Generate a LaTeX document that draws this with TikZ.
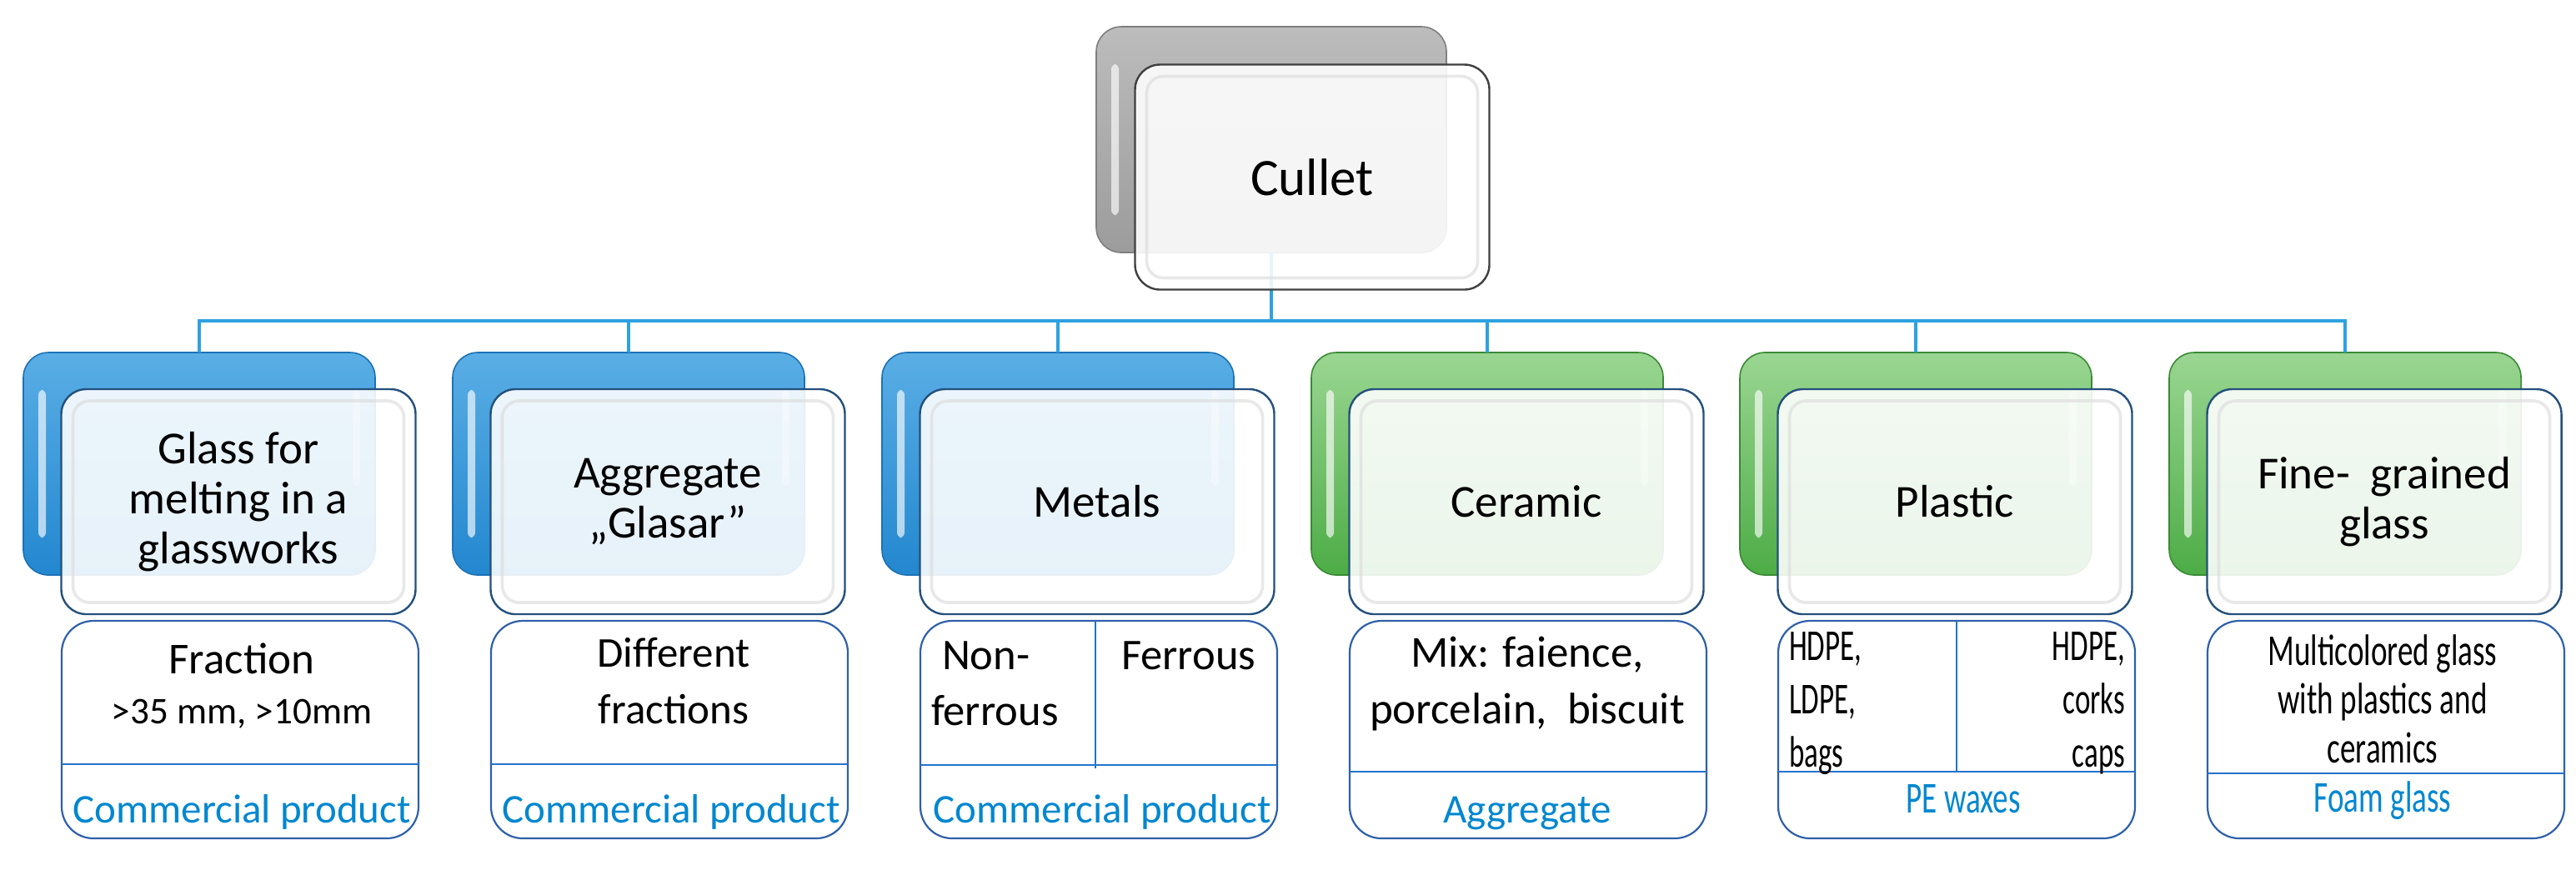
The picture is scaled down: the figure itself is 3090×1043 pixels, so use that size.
\documentclass[tikz,border=0pt]{standalone}
\usepackage{fontspec}
\usepackage{graphicx}
\setmainfont{Carlito}
\usetikzlibrary{calc}
\definecolor{connc}{HTML}{2DA2E1}
\definecolor{bTop}{HTML}{5AAEE5}
\definecolor{bBot}{HTML}{2387CF}
\definecolor{bEdge}{HTML}{1C72B5}
\definecolor{gTop}{HTML}{9AD692}
\definecolor{gBot}{HTML}{4DAC46}
\definecolor{gEdge}{HTML}{3A8A35}
\definecolor{kTop}{HTML}{BCBCBC}
\definecolor{kBot}{HTML}{9C9C9C}
\definecolor{kEdge}{HTML}{7F7F7F}
\definecolor{fEdge}{HTML}{24507C}
\definecolor{boxEdge}{HTML}{2E60AA}
\definecolor{divc}{HTML}{2373CC}
\definecolor{txtblue}{HTML}{0087D0}
\newcommand\fsz[2]{\fontsize{#1}{#2}\selectfont}
\newcommand\cond[1]{\scalebox{0.70}[1]{#1}}
\newcommand\condp[1]{\scalebox{0.66}[1]{#1}}
\tikzset{
  backbox/.style={rounded corners=7.5pt, minimum width=105.5pt, minimum height=66.75pt, inner sep=0pt, outer sep=0pt, line width=0.4pt},
  backblue/.style={backbox, top color=bTop, bottom color=bBot, draw=bEdge},
  backgreen/.style={backbox, top color=gTop, bottom color=gBot, draw=gEdge},
  backgray/.style={backbox, top color=kTop, bottom color=kBot, draw=kEdge, minimum width=105pt, minimum height=67.75pt},
  frontbox/.style={rounded corners=7.5pt, minimum width=106.25pt, minimum height=67.5pt, draw=fEdge, line width=0.6pt, fill=white, fill opacity=0.89, text opacity=1, align=center, font=\fsz{13.75}{15}, inner sep=0pt, outer sep=0pt},
  bevel/.style={draw=black!13, line width=0.9pt, rounded corners=5pt, opacity=0.7},
  shine/.style={fill=white, opacity=0.65, rounded corners=1.5pt},
  lowbox/.style={rounded corners=9.5pt, minimum width=107pt, minimum height=65.25pt, draw=boxEdge, line width=0.55pt, fill=white, inner sep=0pt, outer sep=0pt},
  divline/.style={draw=divc, line width=0.7pt},
  conn/.style={draw=connc, line width=0.9pt},
  txt/.style={anchor=base, inner sep=0pt, outer sep=0pt},
  lbl/.style={txt, text=txtblue, font=\fsz{12.25}{14}},
  narrow/.style={font=\fsz{13.25}{15}},
}
\begin{document}
\begin{tikzpicture}[x=0.25pt, y=-0.25pt]
\useasboundingbox (0,0) rectangle (3090,1043);
% back boxes
\node[backgray] (cullb) at (1525,167.5) {};
\foreach \c/\n/\s in {239/a/backblue, 754/b/backblue, 1269/c/backblue, 1784/d/backgreen, 2298/e/backgreen, 2813/f/backgreen}{
  \node[\s] (\n b) at (\c,556.5) {};
  \fill[shine] ($(\n b.north west)+(18,45)$) rectangle ($(\n b.south west)+(27,-45)$);
  \fill[shine, opacity=0.35] ($(\n b.north east)+(-27,45)$) rectangle ($(\n b.north east)+(-18,160)$);
}
\fill[shine] ($(cullb.north west)+(18,45)$) rectangle ($(cullb.south west)+(27,-45)$);
% connectors
\coordinate (bus) at (1525,385);
\foreach \n in {a,b,c,d,e,f}{
  \draw[conn] (cullb.south) -- (cullb.south |- bus) -| (\n b.north);
}
% front boxes
\node[frontbox, draw=black!75, font=\fsz{15.75}{18}] (cullf) at (1574,212.5) {Cullet};
\draw[bevel] ($(cullf.north west)+(14,14)$) rectangle ($(cullf.south east)+(-14,-14)$);
\node[frontbox] (af) at (286,602) {Glass for\\melting in a\\glassworks};
\node[frontbox] (bf) at (801,602) {Aggregate\\„Glasar”};
\node[frontbox] (cf) at (1316,602) {Metals};
\node[frontbox] (df) at (1831,602) {Ceramic};
\node[frontbox] (ef) at (2345,602) {Plastic};
\node[frontbox] (ff) at (2860,602) {Fine-\ \ grained\\glass};
\foreach \n in {a,b,c,d,e,f}{
  \draw[bevel] ($(\n f.north west)+(14,14)$) rectangle ($(\n f.south east)+(-14,-14)$);
}
% bottom boxes
\node[lowbox] (al) at (288,875.5) {};
\node[lowbox] (bl) at (803,875.5) {};
\node[lowbox] (cl) at (1318,875.5) {};
\node[lowbox] (dl) at (1833,875.5) {};
\node[lowbox] (el) at (2347,875.5) {};
\node[lowbox] (fl) at (2862,875.5) {};
\draw[divline] (al.west |- 0,917) -- (al.east |- 0,917);
\draw[divline] (bl.west |- 0,917) -- (bl.east |- 0,917);
\draw[divline] (cl.west |- 0,918) -- (cl.east |- 0,918);
\draw[divline] (cl.north -| 1314,0) -- (1314,922);
\draw[divline] (dl.west |- 0,926) -- (dl.east |- 0,926);
\draw[divline] (el.west |- 0,926) -- (el.east |- 0,926);
\draw[divline] (el.north) -- (el.center |- 0,926);
\draw[divline] (fl.west |- 0,928) -- (fl.east |- 0,928);
% bottom texts
\node[txt, font=\fsz{13.25}{15}] (a1) at (290,808) {Fraction};
\node[txt, font=\fsz{11.3}{13}] (a2) at (290,868) {>35 mm, >10mm};
\node[lbl] (a3) at (290,987) {Commercial product};
\node[txt, font=\fsz{12.75}{15}] (b1) at (808,800) {Different};
\node[txt, font=\fsz{12.75}{15}] (b2) at (808,868) {fractions};
\node[lbl] (b3) at (805,987) {Commercial product};
\node[txt, anchor=base west, font=\fsz{13.15}{15}] (c1) at (1130,803) {Non-};
\node[txt, anchor=base west, font=\fsz{13.15}{15}] (c2) at (1117,870) {ferrous};
\node[txt, anchor=base west, font=\fsz{13.15}{15}] (c3) at (1345,803) {Ferrous};
\node[lbl] (c4) at (1322,987) {Commercial product};
\node[txt, font=\fsz{13.25}{15}] (d1) at (1832,800) {Mix: faience,};
\node[txt, font=\fsz{13.25}{15}] (d2) at (1832,868) {porcelain,\ \ biscuit};
\node[lbl] (d3) at (1832,987) {Aggregate};
\node[txt, narrow, anchor=base west] (e1) at (2146,792) {\condp{HDPE,}};
\node[txt, narrow, anchor=base west] (e2) at (2146,856) {\condp{LDPE,}};
\node[txt, narrow, anchor=base west] (e3) at (2146,920) {\condp{bags}};
\node[txt, narrow, anchor=base east] (e4) at (2549,792) {\condp{HDPE,}};
\node[txt, narrow, anchor=base east] (e5) at (2549,856) {\condp{corks}};
\node[txt, narrow, anchor=base east] (e6) at (2549,920) {\condp{caps}};
\node[lbl, narrow] (e7) at (2355,975) {\cond{PE waxes}};
\node[txt, narrow] (f1) at (2858,798) {\cond{Multicolored glass}};
\node[txt, narrow] (f2) at (2858,856) {\cond{with plastics and}};
\node[txt, narrow] (f3) at (2858,915) {\cond{ceramics}};
\node[lbl, narrow] (f4) at (2858,974) {\cond{Foam glass}};
\end{tikzpicture}
\end{document}
